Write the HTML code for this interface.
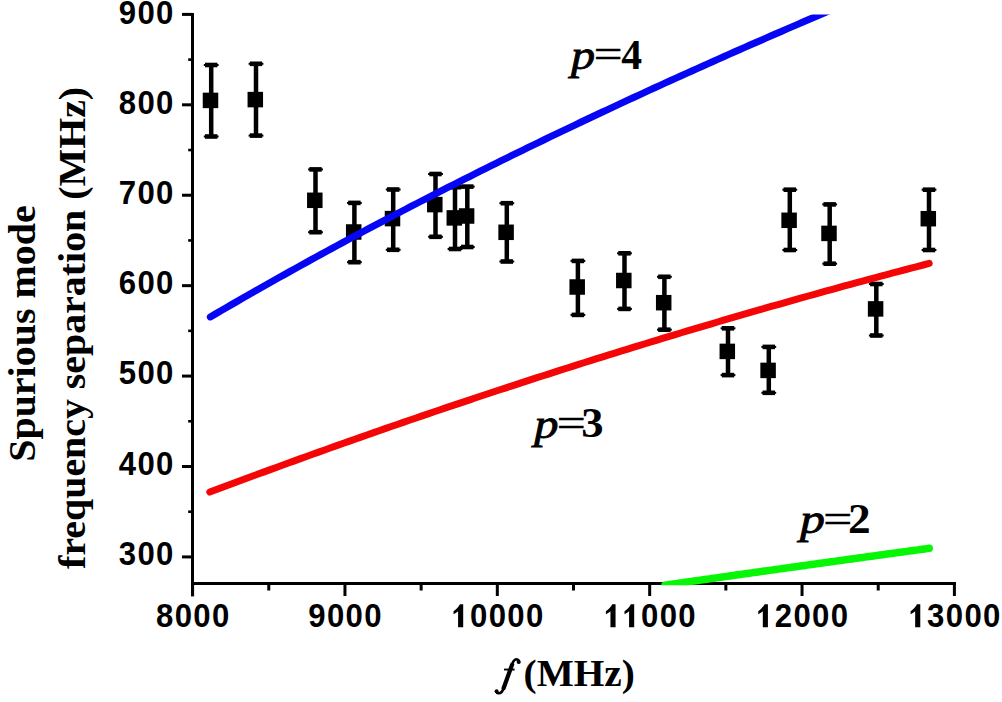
<!DOCTYPE html>
<html><head><meta charset="utf-8"><style>
html,body{margin:0;padding:0;background:#fff;width:1002px;height:702px;overflow:hidden}
svg{display:block}
</style></head><body>
<svg width="1002" height="702" viewBox="0 0 1002 702"><g fill="#000">
<rect x="191.0" y="13.0" width="3" height="583.4"/>
<rect x="191.0" y="582.0" width="765.0" height="3"/>
<rect x="182.0" y="555.42" width="10.5" height="3"/>
<rect x="188.2" y="510.41" width="4.3" height="2.6"/>
<rect x="182.0" y="465.00" width="10.5" height="3"/>
<rect x="188.2" y="419.99" width="4.3" height="2.6"/>
<rect x="182.0" y="374.58" width="10.5" height="3"/>
<rect x="188.2" y="329.57" width="4.3" height="2.6"/>
<rect x="182.0" y="284.16" width="10.5" height="3"/>
<rect x="188.2" y="239.15" width="4.3" height="2.6"/>
<rect x="182.0" y="193.74" width="10.5" height="3"/>
<rect x="188.2" y="148.73" width="4.3" height="2.6"/>
<rect x="182.0" y="103.32" width="10.5" height="3"/>
<rect x="188.2" y="58.31" width="4.3" height="2.6"/>
<rect x="182.0" y="12.90" width="10.5" height="3"/>
<rect x="191.10" y="583.5" width="3" height="12.5"/>
<rect x="267.28" y="583.5" width="3" height="7"/>
<rect x="343.46" y="583.5" width="3" height="12.5"/>
<rect x="419.64" y="583.5" width="3" height="7"/>
<rect x="495.82" y="583.5" width="3" height="12.5"/>
<rect x="572.00" y="583.5" width="3" height="7"/>
<rect x="648.18" y="583.5" width="3" height="12.5"/>
<rect x="724.36" y="583.5" width="3" height="7"/>
<rect x="800.54" y="583.5" width="3" height="12.5"/>
<rect x="876.72" y="583.5" width="3" height="7"/>
<rect x="952.90" y="583.5" width="3" height="12.5"/>
</g>
<g fill="#000">
<rect x="208.95" y="65.00" width="4.5" height="71.50"/>
<rect x="205.00" y="62.70" width="12.4" height="4.6"/>
<rect x="203.80" y="64.00" width="14.8" height="2"/>
<rect x="205.00" y="134.20" width="12.4" height="4.6"/>
<rect x="203.80" y="135.50" width="14.8" height="2"/>
<rect x="202.75" y="92.65" width="15.5" height="15.5"/>
<rect x="253.75" y="63.80" width="4.5" height="71.80"/>
<rect x="249.80" y="61.50" width="12.4" height="4.6"/>
<rect x="248.60" y="62.80" width="14.8" height="2"/>
<rect x="249.80" y="133.30" width="12.4" height="4.6"/>
<rect x="248.60" y="134.60" width="14.8" height="2"/>
<rect x="247.55" y="91.85" width="15.5" height="15.5"/>
<rect x="313.25" y="169.40" width="4.5" height="62.80"/>
<rect x="309.30" y="167.10" width="12.4" height="4.6"/>
<rect x="308.10" y="168.40" width="14.8" height="2"/>
<rect x="309.30" y="229.90" width="12.4" height="4.6"/>
<rect x="308.10" y="231.20" width="14.8" height="2"/>
<rect x="307.05" y="192.55" width="15.5" height="15.5"/>
<rect x="352.15" y="202.90" width="4.5" height="59.30"/>
<rect x="348.20" y="200.60" width="12.4" height="4.6"/>
<rect x="347.00" y="201.90" width="14.8" height="2"/>
<rect x="348.20" y="259.90" width="12.4" height="4.6"/>
<rect x="347.00" y="261.20" width="14.8" height="2"/>
<rect x="345.95" y="224.25" width="15.5" height="15.5"/>
<rect x="390.95" y="189.50" width="4.5" height="60.30"/>
<rect x="387.00" y="187.20" width="12.4" height="4.6"/>
<rect x="385.80" y="188.50" width="14.8" height="2"/>
<rect x="387.00" y="247.50" width="12.4" height="4.6"/>
<rect x="385.80" y="248.80" width="14.8" height="2"/>
<rect x="384.75" y="210.85" width="15.5" height="15.5"/>
<rect x="433.25" y="174.00" width="4.5" height="62.80"/>
<rect x="429.30" y="171.70" width="12.4" height="4.6"/>
<rect x="428.10" y="173.00" width="14.8" height="2"/>
<rect x="429.30" y="234.50" width="12.4" height="4.6"/>
<rect x="428.10" y="235.80" width="14.8" height="2"/>
<rect x="427.05" y="196.85" width="15.5" height="15.5"/>
<rect x="452.75" y="187.20" width="4.5" height="61.80"/>
<rect x="448.80" y="184.90" width="12.4" height="4.6"/>
<rect x="447.60" y="186.20" width="14.8" height="2"/>
<rect x="448.80" y="246.70" width="12.4" height="4.6"/>
<rect x="447.60" y="248.00" width="14.8" height="2"/>
<rect x="446.55" y="210.15" width="15.5" height="15.5"/>
<rect x="465.05" y="186.60" width="4.5" height="60.40"/>
<rect x="461.10" y="184.30" width="12.4" height="4.6"/>
<rect x="459.90" y="185.60" width="14.8" height="2"/>
<rect x="461.10" y="244.70" width="12.4" height="4.6"/>
<rect x="459.90" y="246.00" width="14.8" height="2"/>
<rect x="458.85" y="208.25" width="15.5" height="15.5"/>
<rect x="504.55" y="203.20" width="4.5" height="58.30"/>
<rect x="500.60" y="200.90" width="12.4" height="4.6"/>
<rect x="499.40" y="202.20" width="14.8" height="2"/>
<rect x="500.60" y="259.20" width="12.4" height="4.6"/>
<rect x="499.40" y="260.50" width="14.8" height="2"/>
<rect x="498.35" y="224.55" width="15.5" height="15.5"/>
<rect x="575.65" y="260.90" width="4.5" height="54.00"/>
<rect x="571.70" y="258.60" width="12.4" height="4.6"/>
<rect x="570.50" y="259.90" width="14.8" height="2"/>
<rect x="571.70" y="312.60" width="12.4" height="4.6"/>
<rect x="570.50" y="313.90" width="14.8" height="2"/>
<rect x="569.45" y="279.25" width="15.5" height="15.5"/>
<rect x="622.25" y="253.30" width="4.5" height="55.60"/>
<rect x="618.30" y="251.00" width="12.4" height="4.6"/>
<rect x="617.10" y="252.30" width="14.8" height="2"/>
<rect x="618.30" y="306.60" width="12.4" height="4.6"/>
<rect x="617.10" y="307.90" width="14.8" height="2"/>
<rect x="616.05" y="272.75" width="15.5" height="15.5"/>
<rect x="662.15" y="276.80" width="4.5" height="52.90"/>
<rect x="658.20" y="274.50" width="12.4" height="4.6"/>
<rect x="657.00" y="275.80" width="14.8" height="2"/>
<rect x="658.20" y="327.40" width="12.4" height="4.6"/>
<rect x="657.00" y="328.70" width="14.8" height="2"/>
<rect x="655.95" y="294.95" width="15.5" height="15.5"/>
<rect x="725.75" y="328.30" width="4.5" height="46.80"/>
<rect x="721.80" y="326.00" width="12.4" height="4.6"/>
<rect x="720.60" y="327.30" width="14.8" height="2"/>
<rect x="721.80" y="372.80" width="12.4" height="4.6"/>
<rect x="720.60" y="374.10" width="14.8" height="2"/>
<rect x="719.55" y="343.65" width="15.5" height="15.5"/>
<rect x="766.55" y="346.90" width="4.5" height="45.90"/>
<rect x="762.60" y="344.60" width="12.4" height="4.6"/>
<rect x="761.40" y="345.90" width="14.8" height="2"/>
<rect x="762.60" y="390.50" width="12.4" height="4.6"/>
<rect x="761.40" y="391.80" width="14.8" height="2"/>
<rect x="760.35" y="362.65" width="15.5" height="15.5"/>
<rect x="787.55" y="189.70" width="4.5" height="60.30"/>
<rect x="783.60" y="187.40" width="12.4" height="4.6"/>
<rect x="782.40" y="188.70" width="14.8" height="2"/>
<rect x="783.60" y="247.70" width="12.4" height="4.6"/>
<rect x="782.40" y="249.00" width="14.8" height="2"/>
<rect x="781.35" y="212.55" width="15.5" height="15.5"/>
<rect x="827.45" y="204.40" width="4.5" height="59.30"/>
<rect x="823.50" y="202.10" width="12.4" height="4.6"/>
<rect x="822.30" y="203.40" width="14.8" height="2"/>
<rect x="823.50" y="261.40" width="12.4" height="4.6"/>
<rect x="822.30" y="262.70" width="14.8" height="2"/>
<rect x="821.25" y="225.65" width="15.5" height="15.5"/>
<rect x="874.05" y="284.00" width="4.5" height="51.50"/>
<rect x="870.10" y="281.70" width="12.4" height="4.6"/>
<rect x="868.90" y="283.00" width="14.8" height="2"/>
<rect x="870.10" y="333.20" width="12.4" height="4.6"/>
<rect x="868.90" y="334.50" width="14.8" height="2"/>
<rect x="867.85" y="301.15" width="15.5" height="15.5"/>
<rect x="926.75" y="189.70" width="4.5" height="60.30"/>
<rect x="922.80" y="187.40" width="12.4" height="4.6"/>
<rect x="921.60" y="188.70" width="14.8" height="2"/>
<rect x="922.80" y="247.70" width="12.4" height="4.6"/>
<rect x="921.60" y="249.00" width="14.8" height="2"/>
<rect x="920.55" y="210.95" width="15.5" height="15.5"/>
</g>
<clipPath id="cp"><rect x="194" y="14.6" width="800" height="570.6"/></clipPath>
<g clip-path="url(#cp)" fill="none" stroke-linecap="round" stroke-width="7.3">
<path d="M210.30,316.95 L215.59,313.86 L220.88,310.78 L226.17,307.71 L231.47,304.65 L236.76,301.61 L242.05,298.57 L247.34,295.54 L252.63,292.52 L257.92,289.51 L263.22,286.51 L268.51,283.52 L273.80,280.54 L279.09,277.57 L284.38,274.61 L289.67,271.66 L294.97,268.71 L300.26,265.78 L305.55,262.85 L310.84,259.94 L316.13,257.03 L321.42,254.14 L326.72,251.25 L332.01,248.37 L337.30,245.50 L342.59,242.64 L347.88,239.79 L353.17,236.94 L358.46,234.11 L363.76,231.28 L369.05,228.46 L374.34,225.66 L379.63,222.86 L384.92,220.06 L390.21,217.28 L395.51,214.51 L400.80,211.74 L406.09,208.98 L411.38,206.23 L416.67,203.49 L421.96,200.76 L427.26,198.03 L432.55,195.31 L437.84,192.60 L443.13,189.90 L448.42,187.21 L453.71,184.52 L459.01,181.84 L464.30,179.17 L469.59,176.51 L474.88,173.86 L480.17,171.21 L485.46,168.57 L490.75,165.94 L496.05,163.31 L501.34,160.69 L506.63,158.08 L511.92,155.48 L517.21,152.88 L522.50,150.29 L527.80,147.71 L533.09,145.14 L538.38,142.57 L543.67,140.01 L548.96,137.46 L554.25,134.91 L559.55,132.37 L564.84,129.84 L570.13,127.31 L575.42,124.79 L580.71,122.28 L586.00,119.77 L591.29,117.27 L596.59,114.78 L601.88,112.29 L607.17,109.81 L612.46,107.34 L617.75,104.87 L623.04,102.41 L628.34,99.95 L633.63,97.50 L638.92,95.06 L644.21,92.62 L649.50,90.19 L654.79,87.77 L660.09,85.35 L665.38,82.93 L670.67,80.53 L675.96,78.12 L681.25,75.73 L686.54,73.34 L691.84,70.95 L697.13,68.57 L702.42,66.20 L707.71,63.83 L713.00,61.46 L718.29,59.11 L723.58,56.75 L728.88,54.41 L734.17,52.06 L739.46,49.73 L744.75,47.39 L750.04,45.07 L755.33,42.74 L760.63,40.43 L765.92,38.11 L771.21,35.81 L776.50,33.50 L781.79,31.21 L787.08,28.91 L792.38,26.62 L797.67,24.34 L802.96,22.06 L808.25,19.78 L813.54,17.51 L818.83,15.25 L824.13,12.98 L829.42,10.73 L834.71,8.47 L840.00,6.22" stroke="#0606f4" stroke-width="7.0"/>
<path d="M209.80,492.09 L215.85,489.82 L221.89,487.55 L227.94,485.29 L233.98,483.04 L240.03,480.80 L246.07,478.55 L252.12,476.32 L258.16,474.09 L264.21,471.87 L270.25,469.65 L276.30,467.44 L282.34,465.24 L288.39,463.04 L294.44,460.84 L300.48,458.65 L306.53,456.47 L312.57,454.30 L318.62,452.13 L324.66,449.96 L330.71,447.81 L336.75,445.65 L342.80,443.51 L348.84,441.37 L354.89,439.23 L360.93,437.11 L366.98,434.98 L373.03,432.87 L379.07,430.76 L385.12,428.65 L391.16,426.55 L397.21,424.46 L403.25,422.37 L409.30,420.29 L415.34,418.22 L421.39,416.15 L427.43,414.08 L433.48,412.03 L439.52,409.97 L445.57,407.93 L451.62,405.89 L457.66,403.86 L463.71,401.83 L469.75,399.81 L475.80,397.79 L481.84,395.78 L487.89,393.77 L493.93,391.78 L499.98,389.78 L506.02,387.80 L512.07,385.82 L518.11,383.84 L524.16,381.87 L530.21,379.91 L536.25,377.95 L542.30,376.00 L548.34,374.06 L554.39,372.12 L560.43,370.18 L566.48,368.26 L572.52,366.34 L578.57,364.42 L584.61,362.51 L590.66,360.61 L596.70,358.71 L602.75,356.82 L608.79,354.93 L614.84,353.05 L620.89,351.18 L626.93,349.31 L632.98,347.45 L639.02,345.59 L645.07,343.74 L651.11,341.89 L657.16,340.05 L663.20,338.22 L669.25,336.39 L675.29,334.57 L681.34,332.76 L687.38,330.95 L693.43,329.15 L699.48,327.35 L705.52,325.56 L711.57,323.77 L717.61,321.99 L723.66,320.22 L729.70,318.45 L735.75,316.69 L741.79,314.93 L747.84,313.18 L753.88,311.44 L759.93,309.70 L765.97,307.97 L772.02,306.24 L778.07,304.52 L784.11,302.80 L790.16,301.10 L796.20,299.39 L802.25,297.70 L808.29,296.00 L814.34,294.32 L820.38,292.64 L826.43,290.97 L832.47,289.30 L838.52,287.64 L844.56,285.98 L850.61,284.33 L856.66,282.69 L862.70,281.05 L868.75,279.42 L874.79,277.79 L880.84,276.17 L886.88,274.56 L892.93,272.95 L898.97,271.35 L905.02,269.75 L911.06,268.16 L917.11,266.58 L923.15,265.00 L929.20,263.42" stroke="#f40606" stroke-width="7.0"/>
<path d="M665.00,585.18 L667.22,584.86 L669.44,584.54 L671.66,584.23 L673.88,583.91 L676.10,583.59 L678.32,583.27 L680.54,582.96 L682.76,582.64 L684.98,582.32 L687.20,582.01 L689.42,581.69 L691.64,581.38 L693.86,581.06 L696.08,580.74 L698.30,580.43 L700.52,580.11 L702.74,579.80 L704.96,579.48 L707.18,579.17 L709.40,578.85 L711.62,578.54 L713.84,578.22 L716.06,577.91 L718.28,577.59 L720.50,577.28 L722.72,576.96 L724.94,576.65 L727.16,576.34 L729.38,576.02 L731.61,575.71 L733.83,575.40 L736.05,575.08 L738.27,574.77 L740.49,574.46 L742.71,574.14 L744.93,573.83 L747.15,573.52 L749.37,573.20 L751.59,572.89 L753.81,572.58 L756.03,572.27 L758.25,571.96 L760.47,571.64 L762.69,571.33 L764.91,571.02 L767.13,570.71 L769.35,570.40 L771.57,570.09 L773.79,569.77 L776.01,569.46 L778.23,569.15 L780.45,568.84 L782.67,568.53 L784.89,568.22 L787.11,567.91 L789.33,567.60 L791.55,567.29 L793.77,566.98 L795.99,566.67 L798.21,566.36 L800.43,566.05 L802.65,565.74 L804.87,565.43 L807.09,565.12 L809.31,564.82 L811.53,564.51 L813.75,564.20 L815.97,563.89 L818.19,563.58 L820.41,563.27 L822.63,562.97 L824.85,562.66 L827.07,562.35 L829.29,562.04 L831.51,561.73 L833.73,561.43 L835.95,561.12 L838.17,560.81 L840.39,560.51 L842.61,560.20 L844.83,559.89 L847.05,559.59 L849.27,559.28 L851.49,558.97 L853.71,558.67 L855.93,558.36 L858.15,558.05 L860.37,557.75 L862.59,557.44 L864.82,557.14 L867.04,556.83 L869.26,556.53 L871.48,556.22 L873.70,555.92 L875.92,555.61 L878.14,555.31 L880.36,555.00 L882.58,554.70 L884.80,554.39 L887.02,554.09 L889.24,553.79 L891.46,553.48 L893.68,553.18 L895.90,552.88 L898.12,552.57 L900.34,552.27 L902.56,551.97 L904.78,551.66 L907.00,551.36 L909.22,551.06 L911.44,550.75 L913.66,550.45 L915.88,550.15 L918.10,549.85 L920.32,549.54 L922.54,549.24 L924.76,548.94 L926.98,548.64 L929.20,548.34" stroke="#06f606" stroke-width="7.5"/>
</g>
<text transform="matrix(0.93,0,0,1,127.422,564.65)" text-anchor="middle" font-family="Liberation Sans, sans-serif" font-weight="bold" font-size="33.5">3</text><text transform="matrix(0.93,0,0,1,146.053,564.65)" text-anchor="middle" font-family="Liberation Sans, sans-serif" font-weight="bold" font-size="33.5">0</text><text transform="matrix(0.93,0,0,1,164.684,564.65)" text-anchor="middle" font-family="Liberation Sans, sans-serif" font-weight="bold" font-size="33.5">0</text>
<text transform="matrix(0.93,0,0,1,127.422,474.50)" text-anchor="middle" font-family="Liberation Sans, sans-serif" font-weight="bold" font-size="33.5">4</text><text transform="matrix(0.93,0,0,1,146.053,474.50)" text-anchor="middle" font-family="Liberation Sans, sans-serif" font-weight="bold" font-size="33.5">0</text><text transform="matrix(0.93,0,0,1,164.684,474.50)" text-anchor="middle" font-family="Liberation Sans, sans-serif" font-weight="bold" font-size="33.5">0</text>
<text transform="matrix(0.93,0,0,1,127.422,384.35)" text-anchor="middle" font-family="Liberation Sans, sans-serif" font-weight="bold" font-size="33.5">5</text><text transform="matrix(0.93,0,0,1,146.053,384.35)" text-anchor="middle" font-family="Liberation Sans, sans-serif" font-weight="bold" font-size="33.5">0</text><text transform="matrix(0.93,0,0,1,164.684,384.35)" text-anchor="middle" font-family="Liberation Sans, sans-serif" font-weight="bold" font-size="33.5">0</text>
<text transform="matrix(0.93,0,0,1,127.422,294.20)" text-anchor="middle" font-family="Liberation Sans, sans-serif" font-weight="bold" font-size="33.5">6</text><text transform="matrix(0.93,0,0,1,146.053,294.20)" text-anchor="middle" font-family="Liberation Sans, sans-serif" font-weight="bold" font-size="33.5">0</text><text transform="matrix(0.93,0,0,1,164.684,294.20)" text-anchor="middle" font-family="Liberation Sans, sans-serif" font-weight="bold" font-size="33.5">0</text>
<text transform="matrix(0.93,0,0,1,127.422,204.05)" text-anchor="middle" font-family="Liberation Sans, sans-serif" font-weight="bold" font-size="33.5">7</text><text transform="matrix(0.93,0,0,1,146.053,204.05)" text-anchor="middle" font-family="Liberation Sans, sans-serif" font-weight="bold" font-size="33.5">0</text><text transform="matrix(0.93,0,0,1,164.684,204.05)" text-anchor="middle" font-family="Liberation Sans, sans-serif" font-weight="bold" font-size="33.5">0</text>
<text transform="matrix(0.93,0,0,1,127.422,113.90)" text-anchor="middle" font-family="Liberation Sans, sans-serif" font-weight="bold" font-size="33.5">8</text><text transform="matrix(0.93,0,0,1,146.053,113.90)" text-anchor="middle" font-family="Liberation Sans, sans-serif" font-weight="bold" font-size="33.5">0</text><text transform="matrix(0.93,0,0,1,164.684,113.90)" text-anchor="middle" font-family="Liberation Sans, sans-serif" font-weight="bold" font-size="33.5">0</text>
<text transform="matrix(0.93,0,0,1,127.422,23.75)" text-anchor="middle" font-family="Liberation Sans, sans-serif" font-weight="bold" font-size="33.5">9</text><text transform="matrix(0.93,0,0,1,146.053,23.75)" text-anchor="middle" font-family="Liberation Sans, sans-serif" font-weight="bold" font-size="33.5">0</text><text transform="matrix(0.93,0,0,1,164.684,23.75)" text-anchor="middle" font-family="Liberation Sans, sans-serif" font-weight="bold" font-size="33.5">0</text>
<text transform="matrix(0.93,0,0,1,164.653,627.30)" text-anchor="middle" font-family="Liberation Sans, sans-serif" font-weight="bold" font-size="33.5">8</text><text transform="matrix(0.93,0,0,1,183.284,627.30)" text-anchor="middle" font-family="Liberation Sans, sans-serif" font-weight="bold" font-size="33.5">0</text><text transform="matrix(0.93,0,0,1,201.916,627.30)" text-anchor="middle" font-family="Liberation Sans, sans-serif" font-weight="bold" font-size="33.5">0</text><text transform="matrix(0.93,0,0,1,220.547,627.30)" text-anchor="middle" font-family="Liberation Sans, sans-serif" font-weight="bold" font-size="33.5">0</text>
<text transform="matrix(0.93,0,0,1,317.013,627.30)" text-anchor="middle" font-family="Liberation Sans, sans-serif" font-weight="bold" font-size="33.5">9</text><text transform="matrix(0.93,0,0,1,335.644,627.30)" text-anchor="middle" font-family="Liberation Sans, sans-serif" font-weight="bold" font-size="33.5">0</text><text transform="matrix(0.93,0,0,1,354.276,627.30)" text-anchor="middle" font-family="Liberation Sans, sans-serif" font-weight="bold" font-size="33.5">0</text><text transform="matrix(0.93,0,0,1,372.907,627.30)" text-anchor="middle" font-family="Liberation Sans, sans-serif" font-weight="bold" font-size="33.5">0</text>
<path transform="matrix(0.015212,0,0,-0.016357,451.394,627.30)" d="M440,0 L776,0 L776,1409 L560,1409 C500,1290 300,1070 140,985 L140,800 C260,850 370,920 440,985 Z"/><text transform="matrix(0.93,0,0,1,478.689,627.30)" text-anchor="middle" font-family="Liberation Sans, sans-serif" font-weight="bold" font-size="33.5">0</text><text transform="matrix(0.93,0,0,1,497.320,627.30)" text-anchor="middle" font-family="Liberation Sans, sans-serif" font-weight="bold" font-size="33.5">0</text><text transform="matrix(0.93,0,0,1,515.951,627.30)" text-anchor="middle" font-family="Liberation Sans, sans-serif" font-weight="bold" font-size="33.5">0</text><text transform="matrix(0.93,0,0,1,534.582,627.30)" text-anchor="middle" font-family="Liberation Sans, sans-serif" font-weight="bold" font-size="33.5">0</text>
<path transform="matrix(0.015212,0,0,-0.016357,603.754,627.30)" d="M440,0 L776,0 L776,1409 L560,1409 C500,1290 300,1070 140,985 L140,800 C260,850 370,920 440,985 Z"/><path transform="matrix(0.015212,0,0,-0.016357,622.385,627.30)" d="M440,0 L776,0 L776,1409 L560,1409 C500,1290 300,1070 140,985 L140,800 C260,850 370,920 440,985 Z"/><text transform="matrix(0.93,0,0,1,649.680,627.30)" text-anchor="middle" font-family="Liberation Sans, sans-serif" font-weight="bold" font-size="33.5">0</text><text transform="matrix(0.93,0,0,1,668.311,627.30)" text-anchor="middle" font-family="Liberation Sans, sans-serif" font-weight="bold" font-size="33.5">0</text><text transform="matrix(0.93,0,0,1,686.942,627.30)" text-anchor="middle" font-family="Liberation Sans, sans-serif" font-weight="bold" font-size="33.5">0</text>
<path transform="matrix(0.015212,0,0,-0.016357,756.114,627.30)" d="M440,0 L776,0 L776,1409 L560,1409 C500,1290 300,1070 140,985 L140,800 C260,850 370,920 440,985 Z"/><text transform="matrix(0.93,0,0,1,783.409,627.30)" text-anchor="middle" font-family="Liberation Sans, sans-serif" font-weight="bold" font-size="33.5">2</text><text transform="matrix(0.93,0,0,1,802.040,627.30)" text-anchor="middle" font-family="Liberation Sans, sans-serif" font-weight="bold" font-size="33.5">0</text><text transform="matrix(0.93,0,0,1,820.671,627.30)" text-anchor="middle" font-family="Liberation Sans, sans-serif" font-weight="bold" font-size="33.5">0</text><text transform="matrix(0.93,0,0,1,839.302,627.30)" text-anchor="middle" font-family="Liberation Sans, sans-serif" font-weight="bold" font-size="33.5">0</text>
<path transform="matrix(0.015212,0,0,-0.016357,908.474,627.30)" d="M440,0 L776,0 L776,1409 L560,1409 C500,1290 300,1070 140,985 L140,800 C260,850 370,920 440,985 Z"/><text transform="matrix(0.93,0,0,1,935.769,627.30)" text-anchor="middle" font-family="Liberation Sans, sans-serif" font-weight="bold" font-size="33.5">3</text><text transform="matrix(0.93,0,0,1,954.400,627.30)" text-anchor="middle" font-family="Liberation Sans, sans-serif" font-weight="bold" font-size="33.5">0</text><text transform="matrix(0.93,0,0,1,973.031,627.30)" text-anchor="middle" font-family="Liberation Sans, sans-serif" font-weight="bold" font-size="33.5">0</text><text transform="matrix(0.93,0,0,1,991.662,627.30)" text-anchor="middle" font-family="Liberation Sans, sans-serif" font-weight="bold" font-size="33.5">0</text>
<text transform="matrix(0,-0.39988,0.38490,0,34.706,461.828)" font-family="Liberation Serif, serif" font-size="100" font-weight="bold">Spurious mode</text>
<text transform="matrix(0,-0.39885,0.37938,0,84.612,568.892)" font-family="Liberation Serif, serif" font-size="100" font-weight="bold">frequency separation (MHz)</text>
<g fill="none" stroke="#000" stroke-linecap="round"><path d="M519.2,662.2 C519.4,659.6 516.6,658.7 514.6,660.0 C513.2,661.0 512.6,662.8 512.1,664.6" stroke-width="2.6"/><path d="M512.1,664.6 L503.6,688.2" stroke-width="4.2"/><path d="M503.6,688.2 C502.6,691.6 500.6,693.6 498.4,693.2 C497.2,693.0 496.4,692.2 496.2,691.2" stroke-width="2.6"/></g><circle cx="518.6" cy="662.0" r="2"/><circle cx="496.6" cy="691.2" r="2"/><rect x="504" y="668.6" width="10.6" height="1.9"/>
<text transform="matrix(0.39327,0,0,0.37718,523.572,685.970)" font-family="Liberation Serif, serif" font-size="100" font-weight="bold">(MHz)</text>
<text transform="matrix(0.48077,0,0,0.40200,570.917,68.842)" font-family="Liberation Serif, serif" font-size="100" font-style="italic" stroke="#000" stroke-width="0.9" vector-effect="non-scaling-stroke">p</text>
<text transform="matrix(0.50931,0,0,0.39600,593.763,68.098)" font-family="Liberation Serif, serif" font-size="100"  stroke="#000" stroke-width="0.6" vector-effect="non-scaling-stroke">=</text>
<text transform="matrix(0.41687,0,0,0.42236,621.130,68.500)" font-family="Liberation Serif, serif" font-size="100" font-weight="bold" >4</text>
<text transform="matrix(0.48455,0,0,0.40492,534.139,437.880)" font-family="Liberation Serif, serif" font-size="100" font-style="italic" stroke="#000" stroke-width="0.9" vector-effect="non-scaling-stroke">p</text>
<text transform="matrix(0.51361,0,0,0.39200,556.742,436.816)" font-family="Liberation Serif, serif" font-size="100"  stroke="#000" stroke-width="0.6" vector-effect="non-scaling-stroke">=</text>
<text transform="matrix(0.44603,0,0,0.41228,581.223,437.397)" font-family="Liberation Serif, serif" font-size="100" font-weight="bold" >3</text>
<text transform="matrix(0.49780,0,0,0.41662,800.017,533.431)" font-family="Liberation Serif, serif" font-size="100" font-style="italic" stroke="#000" stroke-width="0.9" vector-effect="non-scaling-stroke">p</text>
<text transform="matrix(0.51361,0,0,0.40000,823.142,532.781)" font-family="Liberation Serif, serif" font-size="100"  stroke="#000" stroke-width="0.6" vector-effect="non-scaling-stroke">=</text>
<text transform="matrix(0.45297,0,0,0.41685,847.998,533.000)" font-family="Liberation Serif, serif" font-size="100" font-weight="bold" >2</text></svg>
</body></html>
